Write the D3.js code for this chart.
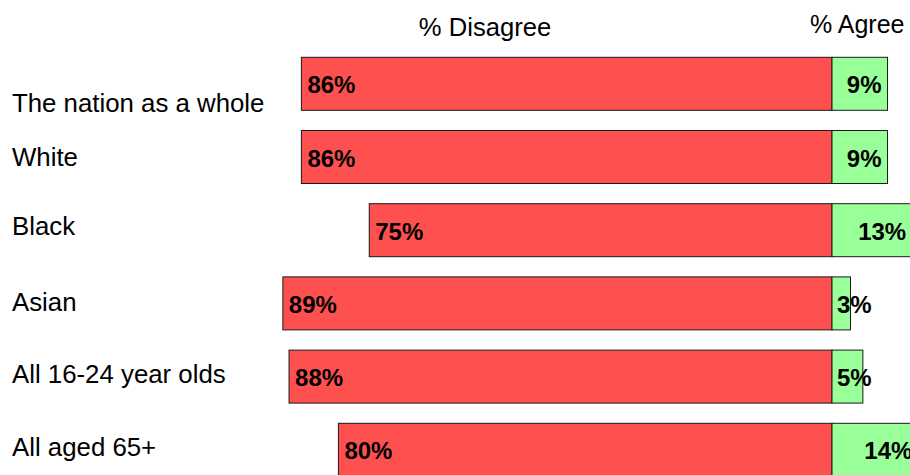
<!DOCTYPE html>
<html>
<head>
<meta charset="utf-8">
<script src="https://cdn.jsdelivr.net/npm/d3@7"></script>
<style>
  html, body { margin: 0; padding: 0; background: #fff; }
  svg { display: block; }
  text { font-family: "Liberation Sans", Arial, sans-serif; fill: #000; }
</style>
</head>
<body>
<svg id="chart" width="910" height="475"></svg>
<script>
const categories = ["The nation as a whole", "White", "Black", "Asian", "All 16-24 year olds", "All aged 65+"];
const disagree = [86, 86, 75, 89, 88, 80];
const agree = [9, 9, 13, 3, 5, 14];
const seriesLabels = ["% Disagree", "% Agree"];

// layout constants
const W = 910, H = 475;
const labelDy = [28.6, 9.3, 4.5, 7.3, 6.1, 6.4];

const svg = d3.select("#chart");

const x = d3.scaleLinear().domain([-100, 100]).range([832 - 617, 832 + 617]);
const pad = 0.276;
const y = d3.scaleBand().domain(categories).range([37.1, 496.5]).paddingInner(pad).paddingOuter(pad);

const rows = categories.map((c, i) => ({ cat: c, dis: disagree[i], agr: agree[i], i }));

// disagree bars
svg.append("g").selectAll("rect").data(rows).join("rect")
  .attr("x", d => x(-d.dis))
  .attr("y", d => y(d.cat))
  .attr("width", d => x(0) - x(-d.dis))
  .attr("height", y.bandwidth())
  .attr("fill", "#FF5050")
  .attr("stroke", "#1a1a1a")
  .attr("stroke-width", 1);

// agree bars
svg.append("g").selectAll("rect").data(rows).join("rect")
  .attr("x", x(0))
  .attr("y", d => y(d.cat))
  .attr("width", d => x(d.agr) - x(0))
  .attr("height", y.bandwidth())
  .attr("fill", "#99FF99")
  .attr("stroke", "#1a1a1a")
  .attr("stroke-width", 1);

// disagree value labels
svg.append("g").selectAll("text").data(rows).join("text")
  .attr("x", d => x(-d.dis) + 6)
  .attr("y", d => y(d.cat) + y.bandwidth() / 2 + 9.5)
  .attr("font-size", 24)
  .attr("font-weight", "bold")
  .text(d => d.dis + "%");

// agree value labels
const ag = svg.append("g").selectAll("text").data(rows).join("text")
  .attr("y", d => y(d.cat) + y.bandwidth() / 2 + 9.5)
  .attr("font-size", 24)
  .attr("font-weight", "bold")
  .attr("text-anchor", "end")
  .text(d => d.agr + "%");
ag.attr("x", function(d) {
  const w = this.getComputedTextLength();
  return Math.max(x(d.agr) - 6, x(0) + 5 + w);
});

// category labels
svg.append("g").selectAll("text").data(rows).join("text")
  .attr("x", 12)
  .attr("y", d => y(d.cat) + y.bandwidth() / 2 + labelDy[d.i])
  .attr("font-size", 25.8)
  .text(d => d.cat);

// series headers
svg.append("text")
  .attr("x", 485).attr("y", 36)
  .attr("font-size", 25.6)
  .attr("text-anchor", "middle")
  .text(seriesLabels[0]);
svg.append("text")
  .attr("x", 810).attr("y", 33)
  .attr("font-size", 25)
  .text(seriesLabels[1]);
</script>
</body>
</html>
